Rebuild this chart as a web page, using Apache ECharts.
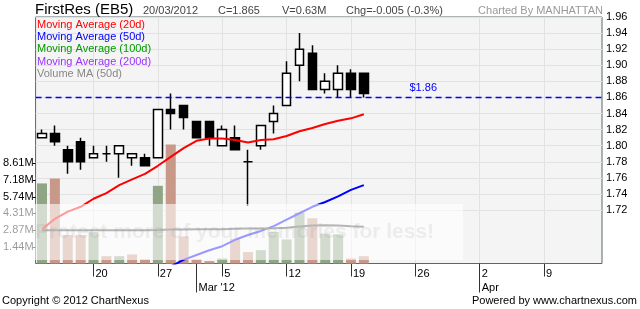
<!DOCTYPE html>
<html><head><meta charset="utf-8">
<script src="https://cdn.jsdelivr.net/npm/echarts@6/dist/echarts.min.js"></script>
<style>html,body{margin:0;padding:0;background:#fff}#c{width:640px;height:309px}</style>
</head><body><div id="c"></div>
<script>
const categories = ['Feb 14','Feb 15','Feb 16','Feb 17','Feb 20','Feb 21','Feb 22','Feb 23','Feb 24','Feb 27','Feb 28','Feb 29',
  'Mar 1','Mar 2','Mar 5','Mar 6','Mar 7','Mar 8','Mar 9','Mar 12','Mar 13','Mar 14','Mar 15','Mar 16','Mar 19','Mar 20',
  'Mar 21','Mar 22','Mar 23','Mar 26','Mar 27','Mar 28','Mar 29','Mar 30','Apr 2','Apr 3','Apr 4','Apr 5','Apr 6','Apr 9','Apr 10','Apr 11','Apr 12','Apr 13'];
const openP  = [1.810,1.815,1.795,1.805,1.785,1.790,1.790,1.785,1.785,1.785,1.845,1.850,1.830,1.830,1.800,1.810,1.780,1.800,1.830,1.850,1.900,1.915,1.870,1.870,1.890,1.890];
const closeP = [1.815,1.805,1.780,1.780,1.790,1.790,1.800,1.790,1.775,1.845,1.840,1.835,1.810,1.810,1.820,1.795,1.780,1.825,1.840,1.890,1.920,1.870,1.880,1.890,1.870,1.865];
const lowP   = [1.810,1.800,1.765,1.770,1.785,1.780,1.760,1.775,1.775,1.785,1.820,1.820,1.810,1.800,1.800,1.795,1.725,1.795,1.815,1.850,1.880,1.870,1.865,1.860,1.860,1.860];
const highP  = [1.820,1.825,1.800,1.810,1.800,1.800,1.800,1.790,1.790,1.845,1.865,1.850,1.830,1.830,1.825,1.825,1.795,1.825,1.850,1.905,1.940,1.925,1.890,1.900,1.895,1.890];
const volume = [6.89,7.32,2.45,2.45,2.70,0.63,0.63,0.78,0.35,6.68,10.23,2.33,0.35,0.20,0.43,2.13,0.98,1.15,2.71,2.07,4.38,3.89,2.57,2.51,0.43,0.63];
const volumeUp = [1,0,0,0,1,0,1,0,0,1,0,0,0,0,1,0,0,1,1,1,1,0,1,1,0,0];
const ma20 = [1.696,1.709,1.718,1.724,1.734,1.741,1.751,1.758,1.765,1.775,1.786,1.797,1.806,1.809,1.809,1.807,1.804,1.807,1.808,1.812,1.818,1.822,1.827,1.831,1.834,1.839];
const ma50 = [null,null,null,null,null,null,null,null,null,null,1.650,1.658,1.664,1.670,1.675,1.683,1.689,1.694,1.700,1.708,1.716,1.724,1.730,1.737,1.745,1.751];
const volMA50 = [2.85,2.86,2.86,2.86,2.86,2.85,2.85,2.86,2.85,2.88,2.92,2.93,2.94,2.94,2.95,2.98,3.00,3.02,3.04,3.08,3.18,3.26,3.29,3.27,3.20,3.17];
const priceTicks = [1.72,1.74,1.76,1.78,1.80,1.82,1.84,1.86,1.88,1.90,1.92,1.94,1.96];
const volTickValues = [1.435,2.87,4.305,5.74,7.175,8.61];
const volTickLabels = ['1.44M','2.87M','4.31M','5.74M','7.18M','8.61M'];
const xTickCats = ['Feb 20','Feb 27','Mar 5','Mar 12','Mar 19','Mar 26','Apr 2','Apr 9'];
const xTickLabels = ['20','27','5','12','19','26','2\nApr','9'];
const monthCats = ['Mar 1','Apr 2'];
const monthOnlyLabel = {'Mar 1': "\nMar '12"};
const lastPrice = 1.86;
const legendNames = ['Moving Average (20d)','Moving Average (50d)','Moving Average (100d)','Moving Average (200d)','Volume MA (50d)'];
const legendColors = ['#ff0000','#0000ff','#009900','#9933ff','#888888'];
const header = [
  {t:'FirstRes (EB5)', x:35, size:15, c:'#000'},
  {t:'20/03/2012', x:143, size:11, c:'#444'},
  {t:'C=1.865', x:218, size:11, c:'#444'},
  {t:'V=0.63M', x:282, size:11, c:'#444'},
  {t:'Chg=-0.005 (-0.3%)', x:346, size:11, c:'#444'}
];

const FONT = '"Liberation Sans", Arial, sans-serif';
const candleData = openP.map((o,i)=>[o, closeP[i], lowP[i], highP[i]]);
const volData = volume.map((v,i)=>({value:v, itemStyle:{color: volumeUp[i] ? '#8fa585' : '#c89888'}}));

const chart = echarts.init(document.getElementById('c'), null, {renderer:'canvas'});
const graphics = [];
header.forEach(h=>graphics.push({type:'text', x:h.x, y:h.size>12?10:11, z:50,
  style:{text:h.t, font:h.size+'px '+FONT, fill:h.c, verticalAlign:'middle', align:'left'}}));
graphics.push({type:'text', x:603, y:11, z:50, style:{text:'Charted By MANHATTAN', font:'11px '+FONT, fill:'#999', verticalAlign:'middle', align:'right'}});
legendNames.forEach((n,i)=>graphics.push({type:'text', x:37, y:25+i*12.2, z:50,
  style:{text:n, font:'11px '+FONT, fill:legendColors[i], verticalAlign:'middle', align:'left'}}));
graphics.push({type:'text', x:2, y:301, z:50, style:{text:'Copyright \u00a9 2012 ChartNexus', font:'11px '+FONT, fill:'#000', verticalAlign:'middle'}});
graphics.push({type:'text', x:637, y:301, z:50, style:{text:'Powered by www.chartnexus.com', font:'11px '+FONT, fill:'#000', verticalAlign:'middle', align:'right'}});
graphics.push({type:'rect', z:100, shape:{x:0, y:204, width:463, height:56}, style:{fill:'rgba(255,255,255,0.6)'}});
graphics.push({type:'text', x:35, y:232, z:101, style:{text:'Protect more of your memories for less!', font:'bold 21px '+FONT, fill:'rgba(120,120,120,0.11)', verticalAlign:'middle'}});

chart.setOption({
  animation:false,
  backgroundColor:'#fff',
  grid:{left:35, top:17, width:567, height:246.5, show:true, backgroundColor:'#f4f4f4', borderColor:'#5d6767', borderWidth:1},
  xAxis:[{
    type:'category', data:categories, boundaryGap:true, position:'bottom', gridIndex:0,
    axisLine:{show:false},
    axisTick:{show:true, alignWithLabel:true, length:13, lineStyle:{color:'#333'},
      interval:(i,v)=>xTickCats.includes(v)},
    splitLine:{show:true, alignWithLabel:true, lineStyle:{color:'#e2e2e2', width:1},
      interval:(i,v)=>xTickCats.includes(v)},
    axisLabel:{show:true, interval:(i,v)=>xTickCats.includes(v)||monthOnlyLabel[v]!==undefined,
      align:'left', verticalAlign:'top', margin:3, padding:[0,0,0,2], lineHeight:14,
      fontFamily:FONT, fontSize:11, color:'#000',
      formatter:(v)=>{const k=xTickCats.indexOf(v); return k>=0?xTickLabels[k]:(monthOnlyLabel[v]||'');}}
  },{
    type:'category', data:categories, boundaryGap:true, position:'bottom', gridIndex:0,
    axisLine:{show:false}, axisLabel:{show:false}, splitLine:{show:false},
    axisTick:{show:true, alignWithLabel:true, length:29, lineStyle:{color:'#333'},
      interval:(i,v)=>monthCats.includes(v)}
  }],
  yAxis:[{
    type:'value', position:'right', min:1.6535, max:1.96, scale:true,
    axisLine:{show:false}, axisTick:{show:false, customValues:priceTicks},
    axisLabel:{show:true, customValues:priceTicks, margin:4, fontFamily:FONT, fontSize:11, color:'#000',
      formatter:(v)=>v.toFixed(2)},
    splitLine:{show:true, lineStyle:{color:'#e2e2e2', width:1}}
  },{
    type:'value', position:'left', min:0, max:21.2,
    axisLine:{show:false}, splitLine:{show:false},
    axisTick:{show:true, customValues:volTickValues, length:3, lineStyle:{color:'#000'}},
    axisLabel:{show:true, customValues:volTickValues, margin:2, fontFamily:FONT, fontSize:11, color:'#000',
      formatter:(v)=>{let k=0,d=1e9; volTickValues.forEach((t,j)=>{if(Math.abs(t-v)<d){d=Math.abs(t-v);k=j;}}); return volTickLabels[k];}}
  }],
  series:[
    {type:'bar', name:'Volume', xAxisIndex:0, yAxisIndex:1, data:volData, barWidth:10, z:1, silent:true},
    {type:'candlestick', name:'FirstRes', xAxisIndex:0, yAxisIndex:0, data:candleData, barWidth:9, z:3,
      itemStyle:{color:'#ffffff', color0:'#000000', borderColor:'#000000', borderColor0:'#000000', borderColorDoji:'#000000', borderWidth:1.5}},
    {type:'line', name:'MA20', xAxisIndex:0, yAxisIndex:0, data:ma20, symbol:'none', z:4, lineStyle:{color:'#ff0000', width:2}},
    {type:'line', name:'MA50', xAxisIndex:0, yAxisIndex:0, data:ma50, symbol:'none', z:4, clip:true, color:'#0000ff', lineStyle:{color:'#0000ff', width:2},
      markLine:{symbol:'none', silent:true, animation:false,
        lineStyle:{color:'#0000ff', type:[6,4], width:1.3},
        label:{show:true, position:'insideEndTop', formatter:'$'+lastPrice.toFixed(2), color:'#0000ff', fontFamily:FONT, fontSize:11, offset:[-160,1]},
        data:[{yAxis:lastPrice, lineStyle:{color:'#0000ff'}}]}},
    {type:'line', name:'VolMA50', xAxisIndex:0, yAxisIndex:1, data:volMA50, symbol:'none', z:4, lineStyle:{color:'#4a4a4a', width:2}}
  ],
  graphic:graphics
});
</script></body></html>
